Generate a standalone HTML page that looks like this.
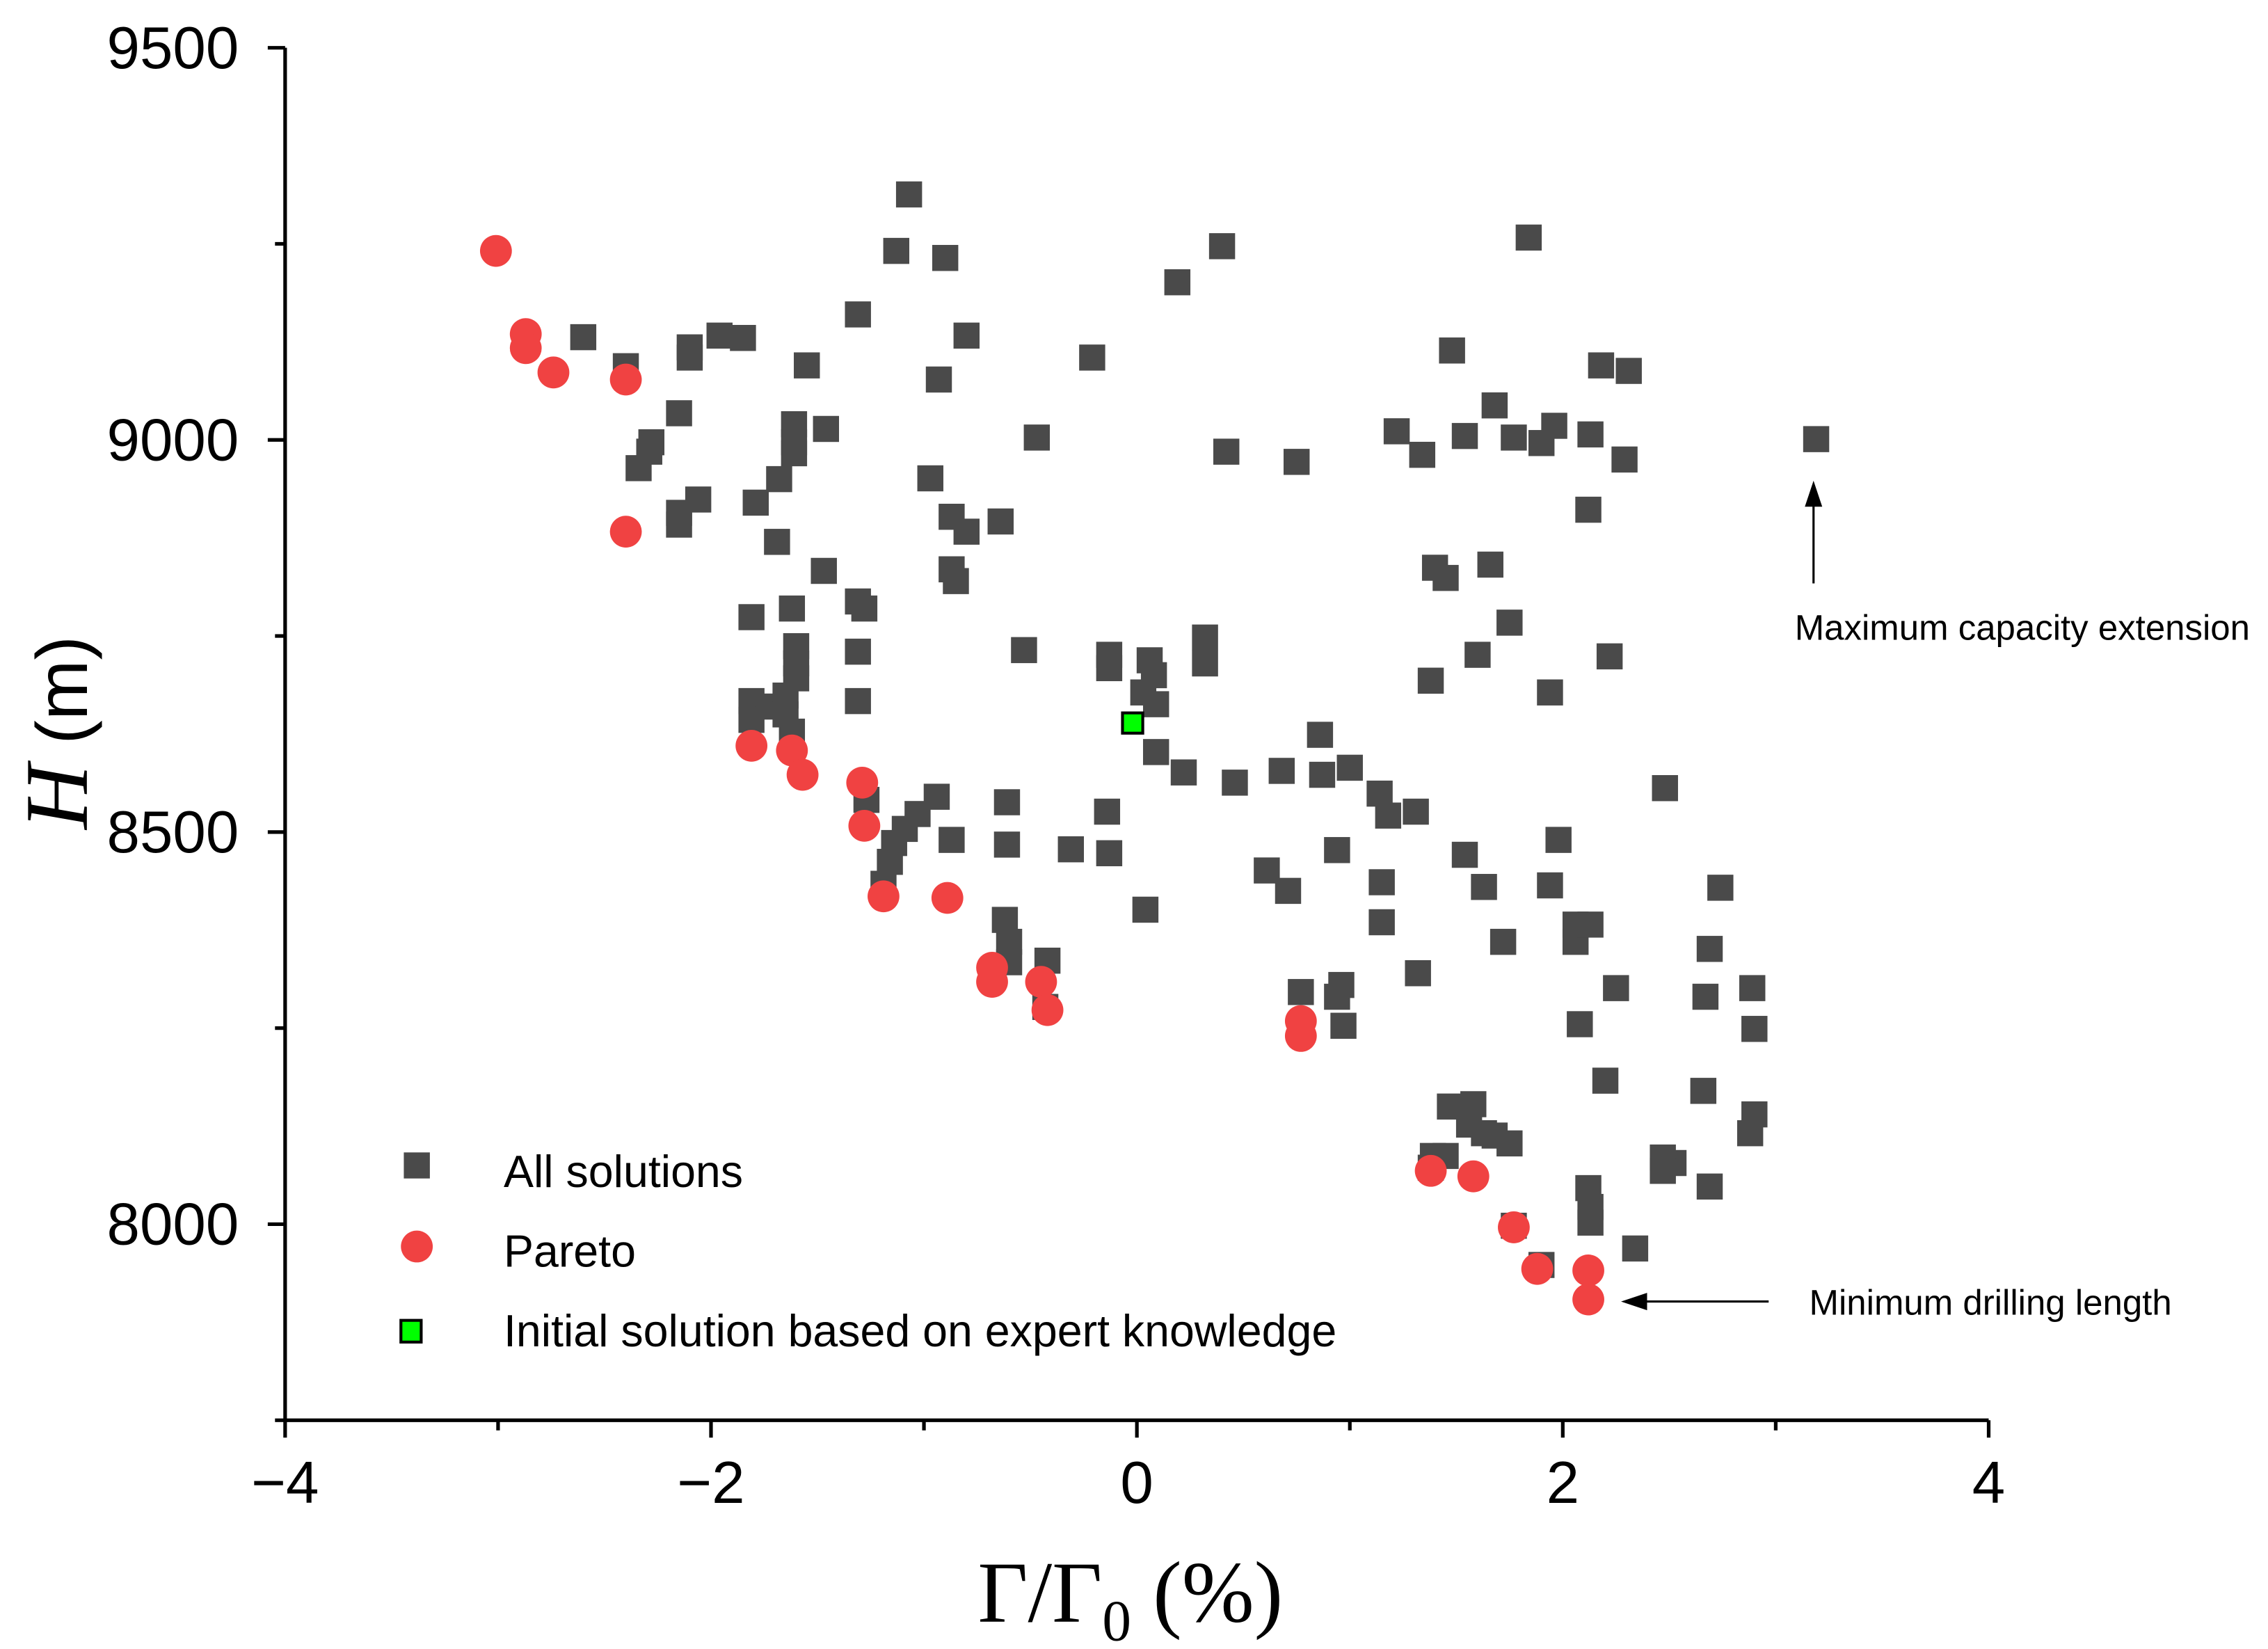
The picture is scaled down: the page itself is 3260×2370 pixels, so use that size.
<!DOCTYPE html>
<html><head><meta charset="utf-8"><style>
html,body{margin:0;padding:0;background:#fff;}
svg{display:block;}
text{font-family:"Liberation Sans",sans-serif;}
</style></head><body>
<svg id="chart" width="3260" height="2370" viewBox="0 0 1567 1139" preserveAspectRatio="none" xmlns="http://www.w3.org/2000/svg">
<g id="axes"></g>
<g id="marks"></g>
<g>
<rect x="279" y="796" width="18" height="18" fill="#4a4a4a"/>
<text x="348" y="820" font-size="31">All solutions</text>
<circle cx="288" cy="861" r="11" fill="#f04242"/>
<text x="348" y="875" font-size="31">Pareto</text>
<rect x="277" y="912" width="14" height="15" fill="#00ff00" stroke="#000" stroke-width="2"/>
<text x="348" y="930" font-size="31">Initial solution based on expert knowledge</text>
</g>
<g>
<line x1="1253" y1="403" x2="1253" y2="345" stroke="#000" stroke-width="1.5"/>
<polygon points="1253,332 1247,350 1259,350" fill="#000"/>
<text x="1240" y="442" font-size="24.5">Maximum capacity extension</text>
<line x1="1222" y1="899" x2="1134" y2="899" stroke="#000" stroke-width="1.5"/>
<polygon points="1120,899 1138,893 1138,905" fill="#000"/>
<text x="1250" y="908" font-size="24.5">Minimum drilling length</text>
</g>
<text x="781" y="1120" font-size="60" text-anchor="middle" style="font-family:'Liberation Serif',serif">Γ/Γ<tspan font-size="40" dy="13">0</tspan><tspan dy="-13"> (%)</tspan></text>
<text transform="translate(60,506) rotate(-90)" font-size="62" text-anchor="middle" style="font-family:'Liberation Serif',serif"><tspan font-style="italic">H</tspan><tspan style="font-family:'Liberation Sans',sans-serif" font-size="50"> (m)</tspan></text>
</svg>
<script>
const xTicks=[-4,-2,0,2,4];
const xMinor=[-3,-1,1,3];
const yTicks=[9500,9000,8500,8000];
const yMinor=[9250,8750,8250,7750];
const allX=[-1.07,-1.13,-0.90,-1.31,-2.60,-2.40,-2.10,-2.10,-1.96,-1.85,-1.55,-0.80,-0.93,-0.21,0.40,0.19,1.84,1.48,2.18,2.31,-2.15,-2.28,-2.29,-2.34,-1.61,-1.61,-1.61,-1.46,-0.47,-0.97,-1.68,-2.06,-2.15,-2.15,-1.79,-1.69,-0.87,-0.80,-0.64,-0.87,-0.85,0.42,0.75,1.22,1.34,1.54,1.68,1.77,1.90,1.96,2.13,2.29,2.12,3.19,-1.47,-1.81,-1.62,-1.31,-1.28,-1.31,-1.60,-1.60,-1.60,-0.53,-0.13,-0.13,0.06,0.08,0.09,0.03,0.32,0.32,1.40,1.45,1.66,1.75,1.60,1.38,2.22,1.94,-1.31,-1.81,-1.81,-1.73,-1.65,-1.65,-1.62,0.09,0.22,0.46,0.68,0.86,0.87,1.00,1.14,1.18,1.31,2.48,-1.27,-0.94,-1.03,-1.09,-1.14,-1.16,-1.19,-0.87,-0.61,-0.61,-0.31,-0.14,-0.13,0.94,0.61,0.71,1.15,1.54,1.63,1.98,1.94,2.74,0.04,1.15,-0.62,-0.60,-0.60,-0.42,2.06,2.13,2.06,1.72,1.32,2.69,2.67,2.89,2.25,2.08,2.90,0.77,0.96,0.94,0.97,-0.43,2.20,2.66,2.90,2.88,1.47,1.58,1.56,1.63,1.68,1.75,1.39,1.45,1.38,2.47,2.52,2.47,2.69,2.12,2.13,2.13,1.77,2.34,1.90];
const allH=[9313,9241,9232,9160,9131,9094,9118,9105,9133,9130,9095,9133,9077,9105,9247,9201,9258,9114,9095,9088,9034,8997,8985,8964,9020,8997,8983,9014,9003,8951,8950,8924,8907,8892,8920,8870,8902,8883,8896,8835,8820,8985,8972,9011,8981,9005,9044,9003,8996,9018,9007,8975,8911,9001,8833,8774,8785,8794,8785,8730,8737,8715,8696,8732,8726,8709,8719,8700,8663,8678,8748,8715,8837,8824,8841,8767,8726,8693,8724,8678,8667,8667,8643,8660,8674,8650,8628,8602,8576,8563,8578,8624,8573,8582,8549,8521,8526,8556,8541,8545,8523,8504,8486,8462,8434,8490,8538,8484,8478,8526,8473,8477,8451,8425,8436,8471,8430,8490,8432,8429,8401,8385,8388,8360,8334,8336,8360,8382,8382,8360,8320,8351,8290,8301,8301,8255,8249,8296,8305,8290,8253,8277,8183,8170,8140,8116,8150,8153,8127,8116,8113,8103,8087,8087,8072,8085,8078,8068,8048,8046,8022,8002,7998,7969,7948];
const parX=[-3.01,-2.87,-2.87,-2.74,-2.40,-2.40,-1.81,-1.62,-1.57,-1.29,-1.28,-1.19,-0.89,-0.68,-0.68,-0.45,-0.42,0.77,0.77,1.38,1.58,1.77,1.88,2.12,2.12];
const parH=[9241,9135,9117,9086,9077,8883,8610,8604,8573,8563,8508,8418,8416,8327,8309,8309,8273,8259,8240,8068,8061,7996,7943,7941,7904];
const initX=[-0.02];
const initH=[8639];

const NS="http://www.w3.org/2000/svg";
const X0=197,X1=1374,XMIN=-4,XMAX=4;
const Y0=981,YTOP=33,HMIN=7750,HMAX=9500;
function sx(v){return X0+(v-XMIN)/(XMAX-XMIN)*(X1-X0);}
function sy(v){return Y0-(v-HMIN)/(HMAX-HMIN)*(Y0-YTOP);}
function mk(tag,attrs,parent){const e=document.createElementNS(NS,tag);for(const k in attrs)e.setAttribute(k,attrs[k]);parent.appendChild(e);return e;}
const axes=document.getElementById('axes'),marks=document.getElementById('marks');
let l=mk('line',{x1:X0,y1:Y0,x2:X1,y2:Y0,stroke:'#000','stroke-width':2.5},axes);


l=mk('line',{x1:X0,y1:Y0,x2:X0,y2:YTOP,stroke:'#000','stroke-width':2.5},axes);


xTicks.forEach(v=>{const t=mk('line',{x1:sx(v),y1:Y0,x2:sx(v),y2:Y0+12,stroke:'#000','stroke-width':2.5},axes);


const tx=mk('text',{x:sx(v),y:Y0+57,'font-size':41,'text-anchor':'middle'},axes);tx.textContent=(v<0?'\u2212'+(-v):String(v));

});
xMinor.forEach(v=>{const t=mk('line',{x1:sx(v),y1:Y0,x2:sx(v),y2:Y0+7,stroke:'#000','stroke-width':2.5},axes);

});
yTicks.forEach(v=>{const t=mk('line',{x1:X0,y1:sy(v),x2:X0-12,y2:sy(v),stroke:'#000','stroke-width':2.5},axes);


const tx=mk('text',{x:X0-32,y:sy(v)+14,'font-size':41,'text-anchor':'end'},axes);tx.textContent=String(v);

});
yMinor.forEach(v=>{const t=mk('line',{x1:X0,y1:sy(v),x2:X0-7,y2:sy(v),stroke:'#000','stroke-width':2.5},axes);

});
allX.forEach((v,i)=>{const r=mk('rect',{x:sx(v)-9,y:sy(allH[i])-9,width:18,height:18,fill:'#4a4a4a'},marks);

});
parX.forEach((v,i)=>{const c=mk('circle',{cx:sx(v),cy:sy(parH[i]),r:11,fill:'#f04242'},marks);

});
initX.forEach((v,i)=>{const r=mk('rect',{x:sx(v)-7,y:sy(initH[i])-7,width:14,height:14,fill:'#00ff00',stroke:'#000','stroke-width':2},marks);

});
</script>
</body></html>
